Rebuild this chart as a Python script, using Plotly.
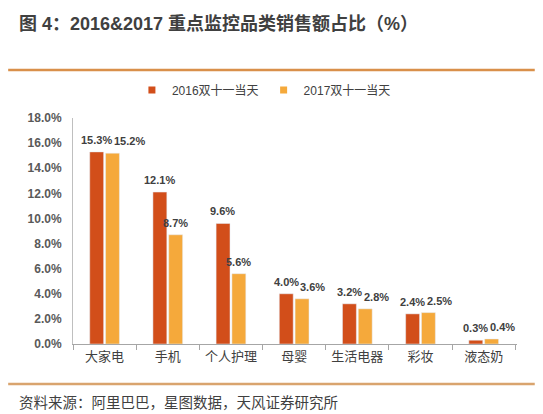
import plotly.graph_objects as go

# 数据
categories = ['大家电', '手机', '个人护理', '母婴', '生活电器', '彩妆', '液态奶']
share_2016 = [15.3, 12.1, 9.6, 4.0, 3.2, 2.4, 0.3]
share_2017 = [15.2, 8.7, 5.6, 3.6, 2.8, 2.5, 0.4]
y_ticks = [0, 2, 4, 6, 8, 10, 12, 14, 16, 18]
series_names = ['2016双十一当天', '2017双十一当天']
colors = ['#D24E1A', '#F5A93B']

label_font = dict(family='Liberation Sans, Noto Sans CJK SC', size=11, color='#404040')

fig = go.Figure()
for name, vals, c in zip(series_names, [share_2016, share_2017], colors):
    fig.add_trace(go.Bar(x=categories, y=vals, name=name, marker_color=c, showlegend=False))
# 小方块图例
for name, c in zip(series_names, colors):
    fig.add_trace(go.Scatter(
        x=[None], y=[None], mode='markers', name=name,
        marker=dict(symbol='square', size=7, color=c),
    ))

# 数据标签：2017 标签与 2016 标签太近时向右让开（类似 Excel）
def txt_w(s):
    return 6.2 * len(s)

for cat, v16, v17 in zip(categories, share_2016, share_2017):
    t16, t17 = f'{v16:.1f}%', f'{v17:.1f}%'
    shift17 = 8
    if abs(v16 - v17) < 1.0:
        shift17 = 8 + max(0, (txt_w(t16) + txt_w(t17)) / 2 + 2 - 16)
    for t, v, xs in [(t16, v16, -8), (t17, v17, shift17)]:
        fig.add_annotation(
            x=cat, y=v, xref='x', yref='y', text=f'<b>{t}</b>', showarrow=False,
            xanchor='center', yanchor='bottom', xshift=xs, yshift=4,
            font=label_font,
        )

# 页面有 8px 边距，图整体缩小 8px
fig.update_layout(
    width=535, height=406,
    margin=dict(l=65, r=26, t=110, b=70),
    paper_bgcolor='white', plot_bgcolor='white',
    barmode='group', bargap=0.5, bargroupgap=0.12,
    font=dict(family='Liberation Sans, Noto Sans CJK SC', color='#404040'),
    showlegend=True,
    legend=dict(orientation='h', x=0.43, xanchor='center', y=1.124, yanchor='middle',
                font=dict(size=12, color='#404040'), itemwidth=30,
                traceorder='normal'),
)

fig.update_yaxes(
    range=[0, 18], tickvals=y_ticks,
    ticktext=[f'<b>{v:.1f}%</b>' for v in y_ticks],
    tickfont=dict(size=12, color='#595959'),
    showgrid=False, zeroline=False,
    showline=True, linecolor='#BFBFBF', linewidth=1,
    ticks='', ticklabelstandoff=8,
)
fig.update_xaxes(
    showgrid=False, showline=True, linecolor='#A6A6A6', linewidth=1,
    ticks='outside', tickson='boundaries', ticklen=5, tickcolor='#A6A6A6',
    tickfont=dict(size=13, color='#404040'),
)

# 标题、分隔线与资料来源
fig.add_annotation(
    text='<b>图 4：2016&2017 重点监控品类销售额占比（%）</b>',
    xref='paper', yref='paper', x=-0.126, y=1.42, xanchor='left', yanchor='middle',
    showarrow=False, font=dict(size=18, color='#404040'),
)
fig.add_shape(type='line', xref='paper', yref='paper', x0=-0.146, x1=1.04, y0=1.212, y1=1.212,
              line=dict(color='#D9904A', width=2.5))
fig.add_shape(type='line', xref='paper', yref='paper', x0=-0.146, x1=1.04, y0=-0.177, y1=-0.177,
              line=dict(color='#D9A46E', width=2.5))
fig.add_annotation(
    text='资料来源：阿里巴巴，星图数据，天风证券研究所',
    xref='paper', yref='paper', x=-0.126, y=-0.26, xanchor='left', yanchor='middle',
    showarrow=False, font=dict(size=14.5, color='#404040'),
)

fig.write_html('out.html')
